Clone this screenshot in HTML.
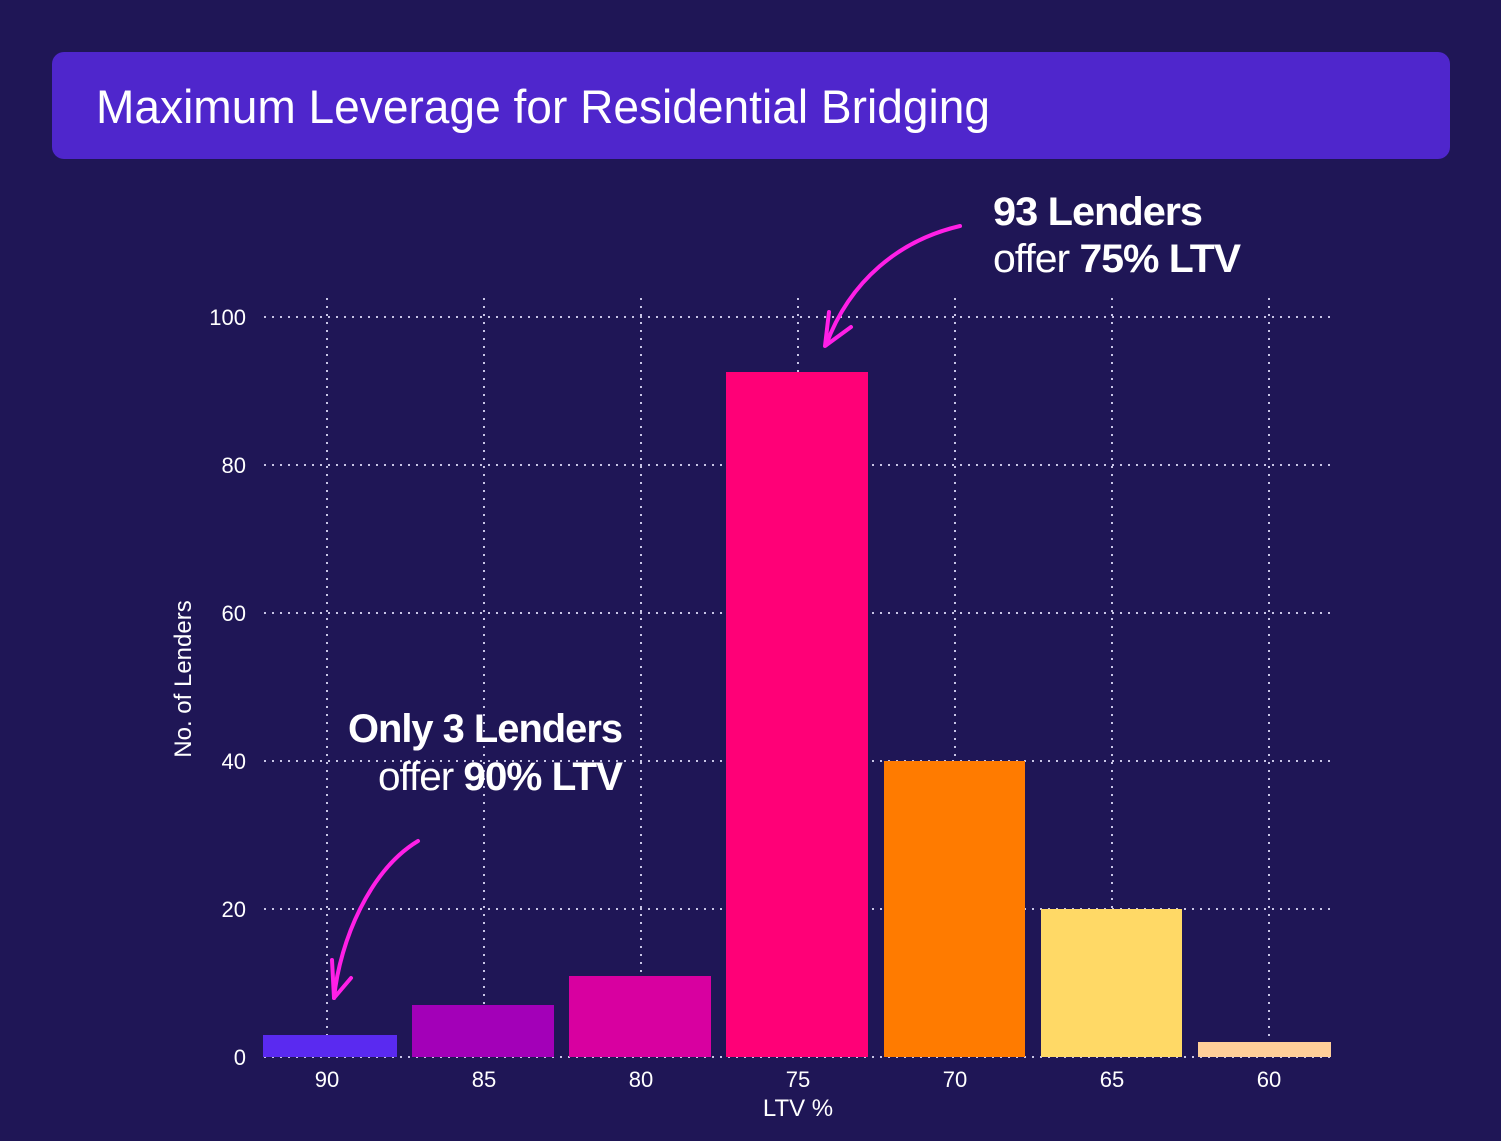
<!DOCTYPE html>
<html><head><meta charset="utf-8"><style>
html,body{margin:0;padding:0;background:#1f1656;}
svg{display:block}
</style></head><body>
<svg width="1501" height="1141" viewBox="0 0 1501 1141" xmlns="http://www.w3.org/2000/svg" font-family="Liberation Sans, sans-serif">
<rect width="1501" height="1141" fill="#1f1656"/>
<rect x="52" y="52" width="1398" height="107" rx="12" fill="#4f26cc"/>
<text x="96" y="123" font-size="47" fill="#fff" textLength="894" lengthAdjust="spacingAndGlyphs">Maximum Leverage for Residential Bridging</text>
<g stroke="#c8c4e6" stroke-width="2" stroke-dasharray="2 6" fill="none">
<line x1="264" y1="317" x2="1331" y2="317"/>
<line x1="264" y1="465" x2="1331" y2="465"/>
<line x1="264" y1="613" x2="1331" y2="613"/>
<line x1="264" y1="761" x2="1331" y2="761"/>
<line x1="264" y1="909" x2="1331" y2="909"/>
<line x1="264" y1="1057" x2="1331" y2="1057"/>
<line x1="327" y1="298" x2="327" y2="1057"/>
<line x1="484" y1="298" x2="484" y2="1057"/>
<line x1="641" y1="298" x2="641" y2="1057"/>
<line x1="798" y1="298" x2="798" y2="1057"/>
<line x1="955" y1="298" x2="955" y2="1057"/>
<line x1="1112" y1="298" x2="1112" y2="1057"/>
<line x1="1269" y1="298" x2="1269" y2="1057"/>
</g>
<rect x="263" y="1035" width="134" height="22" fill="#5a2af0"/>
<rect x="412" y="1005" width="142" height="52" fill="#a300b8"/>
<rect x="569" y="976" width="142" height="81" fill="#d800a0"/>
<rect x="726" y="372" width="142" height="685" fill="#ff0077"/>
<rect x="884" y="761" width="141" height="296" fill="#ff7b00"/>
<rect x="1041" y="909" width="141" height="148" fill="#ffd966"/>
<rect x="1198" y="1042" width="133" height="15" fill="#ffcf99"/>
<g fill="#fff" font-size="22" text-anchor="end">
<text x="246" y="325">100</text><text x="246" y="473">80</text><text x="246" y="621">60</text>
<text x="246" y="769">40</text><text x="246" y="917">20</text><text x="246" y="1065">0</text>
</g>
<g fill="#fff" font-size="22" text-anchor="middle">
<text x="327" y="1087">90</text><text x="484" y="1087">85</text><text x="641" y="1087">80</text>
<text x="798" y="1087">75</text><text x="955" y="1087">70</text><text x="1112" y="1087">65</text>
<text x="1269" y="1087">60</text>
<text x="798" y="1116" font-size="24">LTV %</text>
<text transform="translate(191,679) rotate(-90)" font-size="24">No. of Lenders</text>
</g>
<g fill="#fff" font-size="40" letter-spacing="-1">
<text x="993" y="225" font-weight="bold" textLength="209" lengthAdjust="spacingAndGlyphs">93 Lenders</text>
<text x="993" y="272" textLength="247" lengthAdjust="spacingAndGlyphs">offer <tspan font-weight="bold">75% LTV</tspan></text>
<text x="348" y="742" font-weight="bold" textLength="274" lengthAdjust="spacingAndGlyphs">Only 3 Lenders</text>
<text x="378" y="790" textLength="244" lengthAdjust="spacingAndGlyphs">offer <tspan font-weight="bold">90% LTV</tspan></text>
</g>
<g stroke="#ff1fe6" stroke-width="4" fill="none" stroke-linecap="round" stroke-linejoin="round">
<path d="M960 226 C900 240 850 280 826 345"/>
<path d="M829 312 L825 346 L851 327"/>
<path d="M418 841 C370 870 340 940 334 998"/>
<path d="M332 960 L334 998 L351 978"/>
</g>
</svg>
</body></html>
